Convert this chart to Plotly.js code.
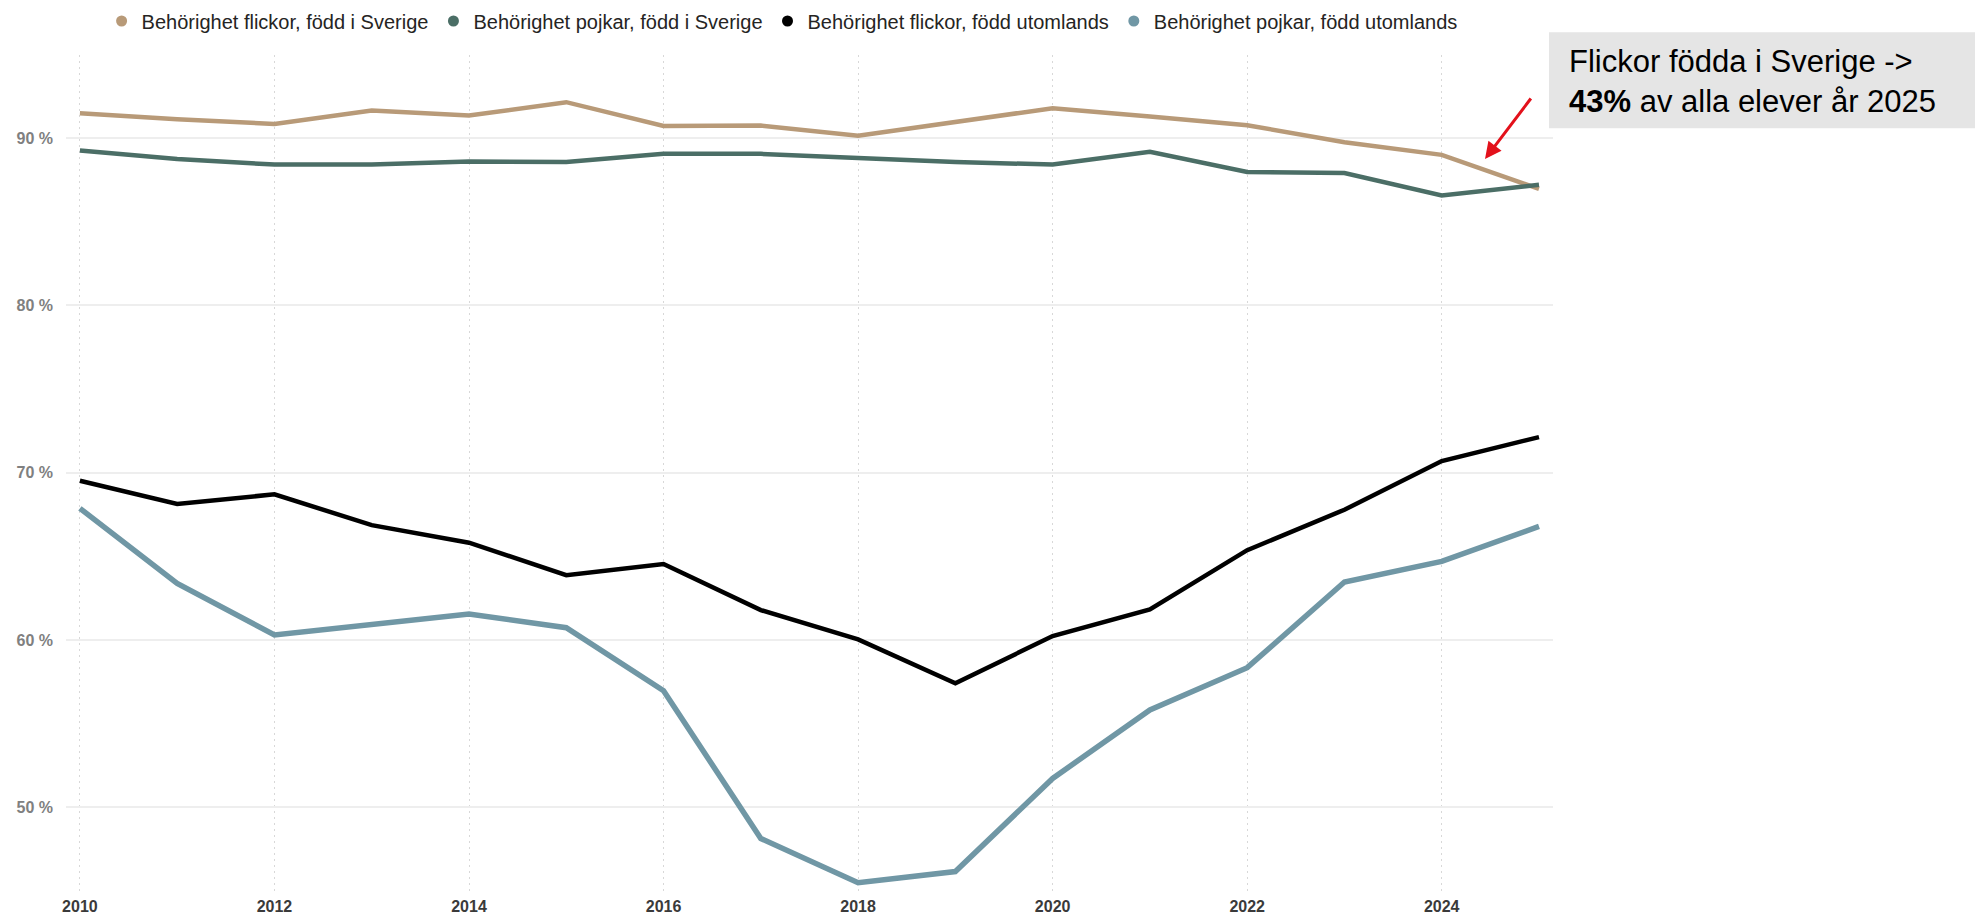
<!DOCTYPE html>
<html>
<head>
<meta charset="utf-8">
<script src="https://cdn.plot.ly/plotly-3.0.1.min.js"></script>
<style>
  html, body { margin: 0; padding: 0; background: #ffffff; }
  #chart { width: 1975px; height: 917px; }
</style>
</head>
<body>
<div id="chart"></div>
<script>
// ---- Data ----
const years = [2010, 2011, 2012, 2013, 2014, 2015, 2016, 2017, 2018, 2019, 2020, 2021, 2022, 2023, 2024, 2025];
const flickorSverige   = [91.49, 91.13, 90.85, 91.65, 91.35, 92.15, 90.73, 90.75, 90.14, 90.99, 91.79, 91.29, 90.77, 89.76, 89.00, 86.97];
const pojkarSverige    = [89.26, 88.75, 88.42, 88.42, 88.60, 88.57, 89.06, 89.06, 88.82, 88.58, 88.42, 89.18, 87.98, 87.92, 86.57, 87.21];
const flickorUtomlands = [69.52, 68.13, 68.71, 66.87, 65.82, 63.88, 64.54, 61.79, 60.04, 57.41, 60.24, 61.83, 65.37, 67.79, 70.70, 72.13];
const pojkarUtomlands  = [67.87, 63.39, 60.30, 60.94, 61.55, 60.74, 56.97, 48.14, 45.50, 46.16, 51.73, 55.82, 58.35, 63.47, 64.70, 66.79];

const seriesNames = [
  "Behörighet flickor, född i Sverige",
  "Behörighet pojkar, född i Sverige",
  "Behörighet flickor, född utomlands",
  "Behörighet pojkar, född utomlands"
];
const seriesValues = [flickorSverige, pojkarSverige, flickorUtomlands, pojkarUtomlands];
const seriesColors = ["#b89a78", "#4b6e66", "#000000", "#7097a5"];
const seriesWidths = [4.5, 4.5, 4.5, 5.5];

const xTickVals = [2010, 2012, 2014, 2016, 2018, 2020, 2022, 2024];
const yTickVals = [50, 60, 70, 80, 90];
const yTickText = ["50 %", "60 %", "70 %", "80 %", "90 %"];

const noteLine1 = "Flickor födda i Sverige ->";
const noteBold = "43%";
const noteLine2 = " av alla elever år 2025";

// ---- Plot geometry helpers ----
const W = 1975, H = 917;
const M = { l: 66, r: 422, t: 55, b: 24 };
const PW = W - M.l - M.r, PH = H - M.t - M.b;
const px = v => (v - M.l) / PW;        // page x pixel -> paper
const py = v => (H - M.b - v) / PH;    // page y pixel -> paper

const FONT = "Liberation Sans, Arial, Helvetica, sans-serif";

const traces = [];
seriesNames.forEach((name, i) => {
  traces.push({
    type: "scatter", mode: "lines", name: name,
    x: years, y: seriesValues[i],
    line: { color: seriesColors[i], width: seriesWidths[i] },
    showlegend: false, hoverinfo: "x+y+name"
  });
});
// legend entries (circle symbols, like the reference)
seriesNames.forEach((name, i) => {
  traces.push({
    type: "scatter", mode: "markers", name: name,
    x: [null], y: [null],
    marker: { color: seriesColors[i], size: 11, symbol: "circle" },
    showlegend: true, hoverinfo: "skip"
  });
});

const layout = {
  width: W, height: H, autosize: false,
  margin: { l: M.l, r: M.r, t: M.t, b: M.b, pad: 0 },
  paper_bgcolor: "#ffffff", plot_bgcolor: "#ffffff",
  font: { family: FONT, color: "#252423" },
  showlegend: true,
  legend: {
    orientation: "h", xref: "container", yref: "container",
    x: 0.396, xanchor: "center", y: (H - 21) / H, yanchor: "middle",
    font: { family: FONT, size: 20, color: "#252423" },
    itemwidth: 30, tracegroupgap: 0, bgcolor: "rgba(0,0,0,0)"
  },
  xaxis: {
    range: [2009.857, 2025.144],
    tickmode: "array", tickvals: xTickVals, ticktext: xTickVals.map(String),
    showgrid: true, gridcolor: "#d8d8d8", griddash: "2px,4px", gridwidth: 1,
    zeroline: false, showline: false, ticks: "",
    tickfont: { family: FONT, size: 16, color: "#3a3a3a", weight: "bold" },
    ticklabelstandoff: 2, fixedrange: true
  },
  yaxis: {
    range: [44.88, 94.97],
    tickmode: "array", tickvals: yTickVals, ticktext: yTickText,
    showgrid: true, gridcolor: "#eeeeee", gridwidth: 2,
    zeroline: false, showline: false, ticks: "",
    tickfont: { family: FONT, size: 16, color: "#808080", weight: "bold" },
    ticklabelstandoff: 12, fixedrange: true
  },
  shapes: [{
    type: "rect", xref: "paper", yref: "paper",
    x0: px(1549), x1: px(1980), y0: py(128.3), y1: py(32.3),
    fillcolor: "#e5e5e5", line: { width: 0 }, layer: "below"
  }],
  annotations: [
    {
      xref: "paper", yref: "paper", x: px(1567), y: py(82), xanchor: "left", yanchor: "middle",
      align: "left", showarrow: false,
      text: noteLine1 + "<br><b>" + noteBold + "</b>" + noteLine2,
      font: { family: FONT, size: 31, color: "#000000" }
    },
    {
      xref: "paper", yref: "paper", x: px(1485), y: py(159),
      axref: "pixel", ayref: "pixel", ax: 1532 - 1485, ay: 97 - 159,
      text: "", showarrow: true, arrowhead: 2, arrowsize: 1.1, arrowwidth: 3,
      arrowcolor: "#e3111b", standoff: 0, startstandoff: 0
    }
  ]
};

Plotly.newPlot("chart", traces, layout, { displayModeBar: false, staticPlot: true });
</script>
</body>
</html>
